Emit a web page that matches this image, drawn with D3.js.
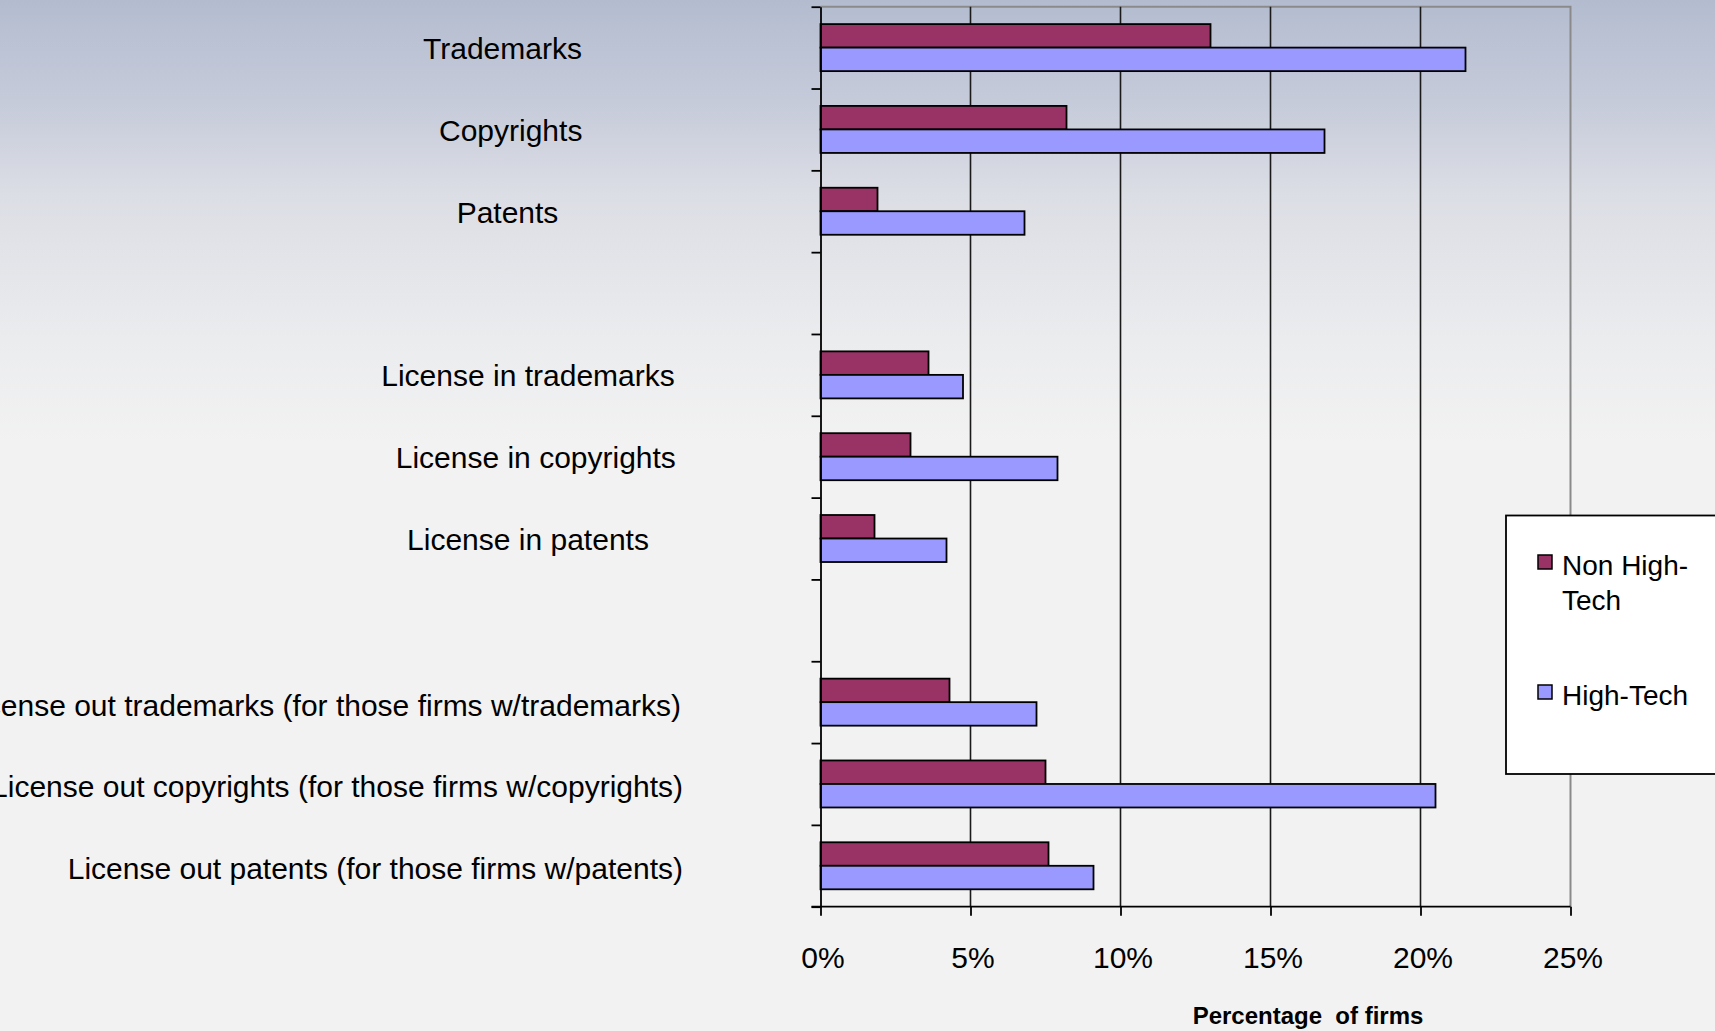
<!DOCTYPE html>
<html>
<head>
<meta charset="utf-8">
<script src="https://cdn.jsdelivr.net/npm/d3@7"></script>
<style>
  html, body { margin: 0; padding: 0; overflow: hidden; background: #f2f2f2; }
  svg { display: block; font-family: Arial, "Liberation Sans", sans-serif; }
</style>
</head>
<body>
<svg id="chart" width="1715" height="1031"></svg>
<script>
// ---- data ----
const categories = [
  "Trademarks",
  "Copyrights",
  "Patents",
  "",
  "License in trademarks",
  "License in copyrights",
  "License in patents",
  "",
  "License out trademarks (for those firms w/trademarks)",
  "License out copyrights (for those firms w/copyrights)",
  "License out patents (for those firms w/patents)"
];
const seriesNames = ["Non High-Tech", "High-Tech"];
const nonHighTech = [13.0, 8.2, 1.9, null, 3.6, 3.0, 1.8, null, 4.3, 7.5, 7.6];
const highTech    = [21.5, 16.8, 6.8, null, 4.75, 7.9, 4.2, null, 7.2, 20.5, 9.1];
const xTicks = [0, 5, 10, 15, 20, 25];
const xTitle = "Percentage  of firms";

// ---- layout / style (not data) ----
const W = 1715, H = 1031;
const plot = { left: 820.5, top: 6.7, right: 1570.5, bottom: 906.7 };
const colors = ["#993366", "#9999FF"];
const labelAnchor = ["middle","middle","middle",null,"middle","middle","middle",null,"end","end","end"];
const labelX = [502.5, 510.7, 507.5, null, 528, 535.8, 528, null, 681, 683, 683];

const svg = d3.select("#chart");

// background gradient
const defs = svg.append("defs");
const grad = defs.append("linearGradient").attr("id", "bg")
  .attr("x1", 0).attr("y1", 0).attr("x2", 0).attr("y2", 1);
[[0, "#b3bccf"], [0.1, "#c6cbda"], [0.19, "#dcdee5"], [0.33, "#ebecee"], [0.43, "#f2f2f2"], [1, "#f2f2f2"]]
  .forEach(([o, c]) => grad.append("stop").attr("offset", o).attr("stop-color", c));
svg.append("rect").attr("width", W).attr("height", H).attr("fill", "url(#bg)");

// scales
const x = d3.scaleLinear().domain([0, 25]).range([plot.left, plot.right]);
const y = d3.scaleBand().domain(d3.range(categories.length)).range([plot.top, plot.bottom]).padding(0);
const yIdx = d3.scaleLinear().domain([0, categories.length]).range([plot.top, plot.bottom]);
const inner = d3.scaleBand().domain([0, 1]).range([0, y.bandwidth()]).paddingInner(0).paddingOuter(0.74);

// plot border (top & right, gray)
svg.append("path")
  .attr("d", `M${plot.left},${plot.top}H${plot.right}V${plot.bottom}`)
  .attr("fill", "none").attr("stroke", "#8a8a8a").attr("stroke-width", 2);

// gridlines
svg.append("g").selectAll("line")
  .data(xTicks.filter(t => t > 0 && t < 25))
  .join("line")
  .attr("x1", d => x(d)).attr("x2", d => x(d))
  .attr("y1", plot.top).attr("y2", plot.bottom)
  .attr("stroke", "#1a1a1a").attr("stroke-width", 1.6);

// bars
const series = [nonHighTech, highTech];
series.forEach((vals, si) => {
  svg.append("g").selectAll("rect")
    .data(vals.map((v, i) => ({ v, i })).filter(d => d.v != null))
    .join("rect")
    .attr("x", x(0))
    .attr("y", d => y(d.i) + inner(si))
    .attr("width", d => x(d.v) - x(0))
    .attr("height", inner.bandwidth())
    .attr("fill", colors[si])
    .attr("stroke", "#000").attr("stroke-width", 1.8);
});

// y axis (ticks at category boundaries)
const yAxis = d3.axisLeft(yIdx)
  .tickValues(d3.range(categories.length + 1))
  .tickFormat("")
  .tickSizeInner(9).tickSizeOuter(0);
const gy = svg.append("g").attr("transform", `translate(${plot.left},0)`).call(yAxis);
gy.select(".domain").attr("stroke", "#000").attr("stroke-width", 1.8);
gy.selectAll(".tick line").attr("stroke", "#000").attr("stroke-width", 1.8);

// x axis
const xAxis = d3.axisBottom(x)
  .tickValues(xTicks)
  .tickFormat(d => d + "%")
  .tickSizeInner(9).tickSizeOuter(0).tickPadding(31);
const gx = svg.append("g").attr("transform", `translate(0,${plot.bottom})`).call(xAxis);
gx.select(".domain").attr("stroke", "#000").attr("stroke-width", 1.8)
  .attr("d", `M${plot.left - 9},0H${plot.right}`);
gx.selectAll(".tick line").attr("stroke", "#000").attr("stroke-width", 1.8);
gx.selectAll(".tick text")
  .attr("font-size", 30).attr("fill", "#000")
  .attr("font-family", "Arial, 'Liberation Sans', sans-serif")
  .attr("dx", 2);

// category labels
svg.append("g").selectAll("text")
  .data(categories.map((c, i) => ({ c, i })).filter(d => d.c !== ""))
  .join("text")
  .attr("x", d => labelX[d.i])
  .attr("y", d => y(d.i) + y.bandwidth() / 2 + (labelAnchor[d.i] === "end" ? 13.5 : 11.3))
  .attr("text-anchor", d => labelAnchor[d.i])
  .attr("font-size", 30)
  .attr("fill", "#000")
  .text(d => d.c);

// x axis title
svg.append("text")
  .attr("x", 1308).attr("y", 1024)
  .attr("text-anchor", "middle")
  .attr("font-size", 24).attr("font-weight", "bold")
  .style("white-space", "pre")
  .attr("fill", "#000")
  .text(xTitle);

// legend
const lg = svg.append("g");
lg.append("rect").attr("x", 1506).attr("y", 515.5).attr("width", 260).attr("height", 258.5)
  .attr("fill", "#fff").attr("stroke", "#000").attr("stroke-width", 1.8);
const legendItems = [
  { name: seriesNames[0], lines: ["Non High-", "Tech"], y: 555 },
  { name: seriesNames[1], lines: ["High-Tech"], y: 685 }
];
legendItems.forEach((it, i) => {
  lg.append("rect").attr("x", 1538).attr("y", it.y).attr("width", 14).attr("height", 14)
    .attr("fill", colors[i]).attr("stroke", "#000").attr("stroke-width", 1.5);
  const t = lg.append("text").attr("x", 1562).attr("y", it.y + 20)
    .attr("font-size", 28).attr("fill", "#000");
  it.lines.forEach((ln, k) => {
    t.append("tspan").attr("x", 1562).attr("dy", k === 0 ? 0 : 35).text(ln);
  });
});
</script>
</body>
</html>
